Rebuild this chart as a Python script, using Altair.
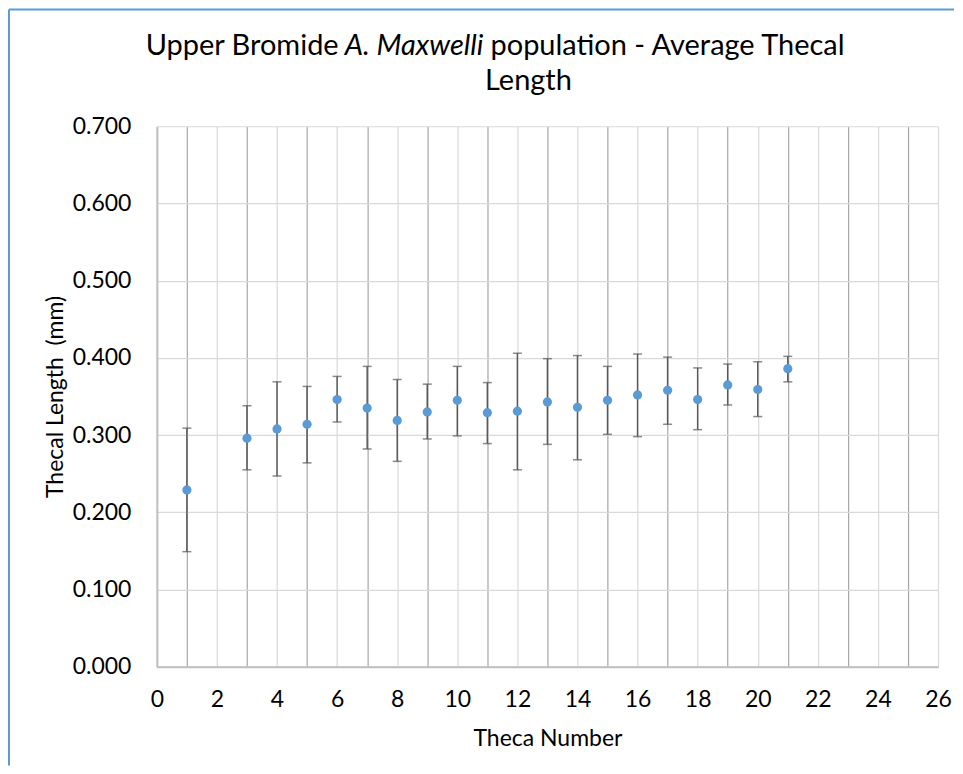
import altair as alt
import pandas as pd

# ---- data ----
theca = [1, 3, 4, 5, 6, 7, 8, 9, 10, 11, 12, 13, 14, 15, 16, 17, 18, 19, 20, 21]
mean_len = [0.229, 0.296, 0.308, 0.314, 0.346, 0.335, 0.319, 0.330, 0.345, 0.329,
            0.331, 0.343, 0.336, 0.345, 0.352, 0.358, 0.346, 0.365, 0.359, 0.386]
upper_len = [0.309, 0.338, 0.369, 0.363, 0.376, 0.389, 0.372, 0.366, 0.389, 0.368,
             0.406, 0.399, 0.403, 0.389, 0.405, 0.401, 0.387, 0.392, 0.395, 0.402]
lower_len = [0.149, 0.255, 0.247, 0.264, 0.317, 0.282, 0.266, 0.295, 0.299, 0.289,
             0.255, 0.288, 0.268, 0.301, 0.298, 0.314, 0.307, 0.339, 0.324, 0.369]

x_ticks = list(range(0, 27))
y_ticks = [0.0, 0.1, 0.2, 0.3, 0.4, 0.5, 0.6, 0.7]

title_part1 = "Upper Bromide"
title_part2 = "A. Maxwelli"
title_part3 = "population - Average Thecal"
title_line2 = "Length"
x_title = "Theca Number"
y_title = "Thecal Length\u00a0 (mm)"

df = pd.DataFrame({"theca": theca, "mean": mean_len, "upper": upper_len, "lower": lower_len})

FONT = "Lato"
W, H = 782, 541

x_scale = alt.Scale(domain=[0, 26], nice=False, zero=False)
y_scale = alt.Scale(domain=[0, 0.7], nice=False)

x_axis = alt.Axis(
    values=x_ticks,
    labelExpr="datum.value % 2 == 0 ? datum.label : ''",
    title=x_title,
    grid=True,
    gridColor={"condition": {"test": "datum.value % 2 == 1", "value": "#a6a6a6"}, "value": "#d9d9d9"},
    gridWidth=1.2,
    ticks=False,
    domainColor="#bfbfbf",
    domainWidth=2,
    labelFont=FONT,
    labelFontSize=23,
    labelColor="#000000",
    labelPadding=22,
    labelFlush=False,
    labelOverlap=False,
    titleFont=FONT,
    titleFontSize=23,
    titleFontWeight="normal",
    titleColor="#000000",
    titleBaseline="alphabetic",
    titleY=79,
)
y_axis = alt.Axis(
    values=y_ticks,
    format=".3f",
    title=y_title,
    grid=True,
    gridColor="#d9d9d9",
    gridWidth=1.2,
    ticks=False,
    domainColor="#bfbfbf",
    domainWidth=2,
    labelFont=FONT,
    labelFontSize=23,
    labelColor="#000000",
    labelPadding=26,
    labelFlush=False,
    titleFont=FONT,
    titleFontSize=23,
    titleFontWeight="normal",
    titleColor="#000000",
    titleBaseline="alphabetic",
    titleX=-94,
)

X = alt.X("theca:Q", scale=x_scale, axis=x_axis)

base = alt.Chart(df)

bars = base.mark_rule(color="#595959", strokeWidth=1.5).encode(
    x=X,
    y=alt.Y("lower:Q", scale=y_scale, axis=y_axis),
    y2="upper:Q",
)
cap_hi = base.mark_tick(color="#595959", orient="horizontal", size=9, thickness=1.5).encode(
    x=X,
    y=alt.Y("upper:Q", scale=y_scale, axis=y_axis),
)
cap_lo = base.mark_tick(color="#595959", orient="horizontal", size=9, thickness=1.5).encode(
    x=X,
    y=alt.Y("lower:Q", scale=y_scale, axis=y_axis),
)
points = base.mark_circle(size=85, color="#5b9bd5", opacity=1).encode(
    x=X,
    y=alt.Y("mean:Q", scale=y_scale, axis=y_axis),
)

one = pd.DataFrame({"k": [0]})
TS = 29

t1 = alt.Chart(one).mark_text(font=FONT, fontSize=TS, color="#000000", align="right",
                              baseline="alphabetic").encode(
    x=alt.value(182), y=alt.value(-71), text=alt.value(title_part1))
t2 = alt.Chart(one).mark_text(font=FONT, fontSize=TS, color="#000000", align="left",
                              baseline="alphabetic", fontStyle="italic").encode(
    x=alt.value(188), y=alt.value(-71), text=alt.value(title_part2))
t3 = alt.Chart(one).mark_text(font=FONT, fontSize=TS, color="#000000", align="left",
                              baseline="alphabetic").encode(
    x=alt.value(334), y=alt.value(-71), text=alt.value(title_part3))
t4 = alt.Chart(one).mark_text(font=FONT, fontSize=TS, color="#000000", align="center",
                              baseline="alphabetic").encode(
    x=alt.value(372), y=alt.value(-36), text=alt.value(title_line2))

border_left = alt.Chart(one).mark_rule(color="#5b9bd5", strokeWidth=2).encode(
    x=alt.value(-148), y=alt.value(-117), y2=alt.value(640))
border_top = alt.Chart(one).mark_rule(color="#5b9bd5", strokeWidth=2).encode(
    x=alt.value(-148), x2=alt.value(798), y=alt.value(-117))

chart = alt.layer(
    bars, cap_hi, cap_lo, points, t1, t2, t3, t4, border_left, border_top
).properties(
    width=W, height=H, padding=0
).configure_view(stroke=None)

chart.save("out.html", embed_options={"renderer": "svg", "actions": False})
